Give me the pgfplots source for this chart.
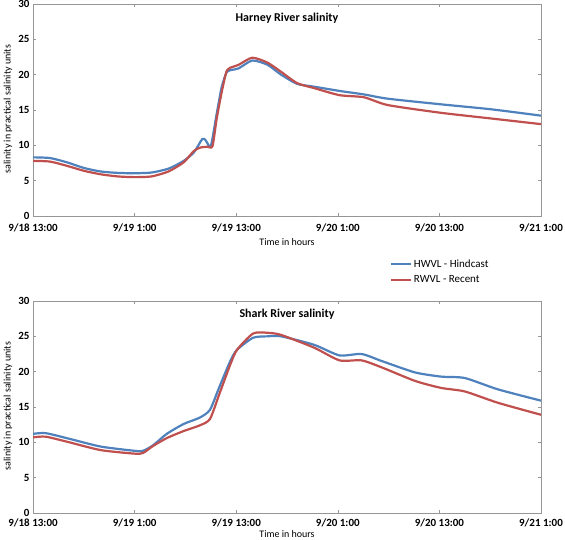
\documentclass[border=0pt]{standalone}
\usepackage{pgfplots}
\pgfplotsset{compat=1.18}
\usepackage{fontspec}
\setmainfont{Carlito}
\definecolor{hblue}{RGB}{79,129,189}
\definecolor{rred}{RGB}{192,80,77}
\definecolor{frame}{RGB}{150,150,150}
\pgfplotsset{
  salax/.style={
    scale only axis, width=508bp, height=212bp,
    xmin=0, xmax=60, ymin=0, ymax=30,
    xtick={0,12,24,36,48,60},
    xticklabels={9/18 13:00,9/19 1:00,9/19 13:00,9/20 1:00,9/20 13:00,9/21 1:00},
    ytick={0,5,...,30},
    tick align=inside, major tick length=3bp,
    axis line style={frame, line width=0.8pt},
    every tick/.style={frame, line width=0.6pt},
    /pgf/number format/assume math mode=true,
    ticklabel style={font=\fontsize{11bp}{13bp}\selectfont\bfseries, text=black},
    xlabel={Time in hours},
    ylabel={salinity in practical salinity units},
    label style={font=\fontsize{10bp}{12bp}\selectfont},
    ylabel style={at={(axis description cs:-0.0492,0.505)}, anchor=center, rotate=0},
    title style={font=\fontsize{12bp}{14bp}\selectfont\bfseries, anchor=center, yshift=0pt},
    every axis plot/.append style={line width=2.2bp, smooth, tension=0.4},
  }
}
\begin{document}
\begin{tikzpicture}
\useasboundingbox (0,0) rectangle (565bp,540bp);
\begin{axis}[salax, at={(33bp,324bp)}, anchor=south west,
  xticklabel style={yshift=-4bp},
  xlabel style={at={(axis description cs:0.5,-0.123)}, anchor=center},
  title={Harney River salinity}, title style={at={(0.5,0.906)}}]
\addplot[hblue] coordinates {
(0,8.3) (2,8.2) (4,7.6) (6,6.8) (8,6.3) (10,6.1) (12,6.05) (14,6.15) (16,6.7) (17.8,7.8)
(19,9.0) (20,10.9) (20.4,10.7) (21,9.9) (21.7,14.5) (22.3,18.3) (22.9,20.4) (23.6,20.7) (24.3,20.9)
(25.9,22.0) (27.7,21.4) (29.3,20.0) (31.2,18.7) (33.2,18.3) (36.2,17.7) (39.1,17.2)
(41.9,16.6) (48.2,15.8) (54.1,15.1) (60,14.2)};
\addplot[rred] coordinates {
(0,7.8) (2,7.7) (4,7.1) (6,6.4) (8,5.9) (10,5.6) (12,5.5) (14,5.6) (16,6.3) (17.8,7.6)
(19,9.2) (19.8,9.7) (20.6,9.8) (21.2,9.9) (21.7,13.8) (22.3,17.6) (22.9,20.6) (23.6,21.1) (24.3,21.4)
(25.9,22.4) (27.7,21.7) (29.3,20.4) (31.2,18.8) (33.2,18.1) (36.2,17.1) (39.1,16.8)
(41.9,15.7) (48.2,14.6) (54.1,13.8) (60,13.0)};
\end{axis}
\begin{axis}[salax, at={(33bp,27bp)}, anchor=south west,
  xticklabel style={yshift=-2.5bp},
  xlabel style={at={(axis description cs:0.5,-0.098)}, anchor=center, inner sep=0pt},
  title={Shark River salinity}, title style={at={(0.5,0.91)}},
  legend style={at={(0.70,1.21)}, anchor=north west, draw=none, fill=none,
    font=\fontsize{11bp}{13bp}\selectfont, row sep=3bp, inner sep=1bp},
  legend cell align=left,
  legend image code/.code={\draw[#1, line width=2.2bp] (0bp,0bp) -- (20bp,0bp);}]
\addplot[hblue] coordinates {
(0,11.2) (1.5,11.3) (4.3,10.5) (8,9.4) (12,8.8) (13,8.8) (14.2,9.6) (15.8,11.2) (17.8,12.6)
(19.7,13.5) (20.9,14.6) (22,17.8) (23.3,21.5) (24.1,23.1) (26,24.8) (27.7,25.0) (29.3,25.0)
(33.2,23.8) (36.2,22.3) (38.8,22.5) (41.2,21.5) (45.1,19.9) (48.2,19.3) (51,19.1) (54.9,17.5) (60,15.9)};
\addlegendentry{HWVL - Hindcast}
\addplot[rred] coordinates {
(0,10.7) (1.5,10.8) (4.3,10.0) (8,8.9) (12,8.4) (13,8.5) (14.2,9.5) (15.8,10.6) (17.8,11.6)
(19.7,12.4) (20.9,13.3) (22,16.8) (23.3,21.0) (24.1,23.1) (26,25.4) (27.7,25.5) (29.3,25.2)
(33.2,23.4) (36.2,21.6) (38.8,21.6) (41.2,20.6) (45.1,18.7) (48.2,17.7) (51,17.2) (54.9,15.6) (60,13.9)};
\addlegendentry{RWVL - Recent}
\end{axis}
\end{tikzpicture}
\end{document}
